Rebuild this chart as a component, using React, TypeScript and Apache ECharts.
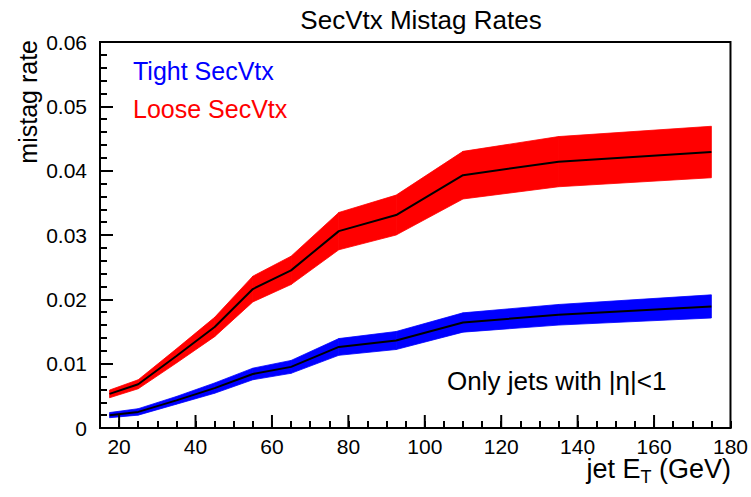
import React, { useEffect, useRef } from "react";
import * as echarts from "echarts";

// jet ET bin centres (GeV)
const jetEt = [17.5, 25, 35, 45, 55, 65, 77.5, 92.5, 110, 135, 175];
// Tight SecVtx mistag rate and its uncertainty
const tightRate = [0.002, 0.0025, 0.0043, 0.0062, 0.0084, 0.0095, 0.0126, 0.0136, 0.0164, 0.0176, 0.0189];
const tightErr = [0.0004, 0.0005, 0.0006, 0.0008, 0.0009, 0.001, 0.0013, 0.0014, 0.0015, 0.0016, 0.0018];
// Loose SecVtx mistag rate and its uncertainty
const looseRate = [0.0053, 0.0068, 0.0112, 0.0157, 0.0216, 0.0245, 0.0306, 0.0331, 0.0393, 0.0414, 0.0429];
const looseErr = [0.0006, 0.0007, 0.0011, 0.0015, 0.002, 0.0022, 0.0029, 0.0031, 0.0037, 0.0039, 0.004];
// major x tick positions
const xMajorTicks = [20, 40, 60, 80, 100, 120, 140, 160];

const FONT = "Liberation Sans";

// One quad per interval between consecutive bins: [x0, lo0, hi0, x1, lo1, hi1]
function bandSeries(name: string, rate: number[], err: number[], color: string) {
  const data: number[][] = [];
  for (let i = 0; i < jetEt.length - 1; i++) {
    data.push([
      jetEt[i], rate[i] - err[i], rate[i] + err[i],
      jetEt[i + 1], rate[i + 1] - err[i + 1], rate[i + 1] + err[i + 1],
    ]);
  }
  return {
    name,
    type: "custom",
    data,
    z: 1,
    silent: true,
    itemStyle: { color },
    encode: { x: [0, 3], y: [1, 2, 4, 5] },
    renderItem: (_params: any, api: any) => {
      const a = api.coord([api.value(0), api.value(1)]);
      const b = api.coord([api.value(3), api.value(4)]);
      const c = api.coord([api.value(3), api.value(5)]);
      const d = api.coord([api.value(0), api.value(2)]);
      return {
        type: "polygon",
        shape: { points: [a, b, c, d] },
        style: { fill: color, stroke: color, lineWidth: 0.8 },
      };
    },
  };
}

export default function App() {
  const ref = useRef<HTMLDivElement>(null);
  useEffect(() => {
    if (!ref.current) return;
    const chart = echarts.init(ref.current, undefined, { renderer: "svg" });
    chart.setOption({
      animation: false,
      backgroundColor: "#ffffff",
      textStyle: { fontFamily: FONT },
      title: {
        text: "SecVtx Mistag Rates",
        left: 416,
        textAlign: "center",
        top: 2,
        textStyle: { fontFamily: FONT, fontSize: 26, fontWeight: "normal", color: "#000" },
      },
      legend: {
        orient: "vertical",
        left: 123,
        top: 53,
        itemWidth: 0,
        itemHeight: 0,
        itemGap: 13,
        icon: "none",
        selectedMode: false,
        data: [
          { name: "Tight SecVtx", icon: "none", textStyle: { color: "#0000ff" } },
          { name: "Loose SecVtx", icon: "none", textStyle: { color: "#ff0000" } },
        ],
        textStyle: { fontFamily: FONT, fontSize: 25 },
      },
      grid: {
        left: 100,
        right: 19,
        top: 42,
        bottom: 69,
        show: true,
        borderColor: "#000",
        borderWidth: 2,
        backgroundColor: "transparent",
      },
      xAxis: {
        type: "value",
        min: 15,
        max: 180,
        interval: 5,
        axisLine: { show: true, onZero: false, lineStyle: { color: "#000", width: 2 } },
        axisTick: { show: true, inside: true, length: 7, lineStyle: { color: "#000", width: 2 } },
        splitLine: { show: false },
        axisLabel: {
          color: "#000",
          fontFamily: FONT,
          fontSize: 21,
          margin: 8,
          showMinLabel: true,
          showMaxLabel: true,
          formatter: (v: number) => (Math.round(v) % 20 === 0 ? String(Math.round(v)) : ""),
        },
      },
      yAxis: {
        type: "value",
        min: 0,
        max: 0.06,
        interval: 0.01,
        axisLine: { show: true, lineStyle: { color: "#000", width: 2 } },
        axisTick: { show: true, inside: true, length: 13, lineStyle: { color: "#000", width: 2 } },
        minorTick: { show: true, splitNumber: 5, length: 7, lineStyle: { color: "#000", width: 2 } },
        splitLine: { show: false },
        minorSplitLine: { show: false },
        axisLabel: {
          color: "#000",
          fontFamily: FONT,
          fontSize: 21,
          margin: 13,
          formatter: (v: number) => (v === 0 ? "0" : v.toFixed(2)),
        },
      },
      graphic: [
        {
          type: "text",
          x: 28,
          y: 40,
          rotation: Math.PI / 2,
          style: {
            text: "mistag rate",
            fontFamily: FONT,
            fontSize: 25,
            fill: "#000",
            align: "right",
            verticalAlign: "middle",
          },
        },
        {
          type: "text",
          x: 731,
          y: 469,
          style: {
            text: "{a|jet E}{s|T}{a| (GeV)}",
            fontFamily: FONT,
            align: "right",
            verticalAlign: "middle",
            rich: {
              a: { fontFamily: FONT, fontSize: 27, lineHeight: 34, fill: "#000" },
              s: { fontFamily: FONT, fontSize: 18, lineHeight: 15, verticalAlign: "bottom", fill: "#000" },
            },
          },
        },
        {
          type: "text",
          x: 447,
          y: 381,
          style: {
            text: "Only jets with |η|<1",
            fontFamily: FONT,
            fontSize: 26,
            fill: "#000",
            align: "left",
            verticalAlign: "middle",
          },
        },
      ],
      series: [
        bandSeries("Loose SecVtx", looseRate, looseErr, "#ff0000"),
        bandSeries("Tight SecVtx", tightRate, tightErr, "#0000ff"),
        {
          name: "Loose central",
          type: "line",
          data: jetEt.map((x, i) => [x, looseRate[i]]),
          symbol: "none",
          lineStyle: { color: "#000", width: 2 },
          z: 3,
        },
        {
          name: "Tight central",
          type: "line",
          data: jetEt.map((x, i) => [x, tightRate[i]]),
          symbol: "none",
          lineStyle: { color: "#000", width: 2 },
          z: 3,
        },
        {
          name: "major ticks",
          type: "custom",
          data: xMajorTicks.map((v) => [v, 0]),
          z: 4,
          silent: true,
          renderItem: (_params: any, api: any) => {
            const p = api.coord([api.value(0), 0]);
            return {
              type: "line",
              shape: { x1: p[0], y1: p[1], x2: p[0], y2: p[1] - 13 },
              style: { stroke: "#000", lineWidth: 2 },
            };
          },
        },
      ],
    });
    return () => chart.dispose();
  }, []);
  return (
    <div
      ref={ref}
      style={{ position: "fixed", left: 0, top: 0, width: 751, height: 497, background: "#fff" }}
    />
  );
}
